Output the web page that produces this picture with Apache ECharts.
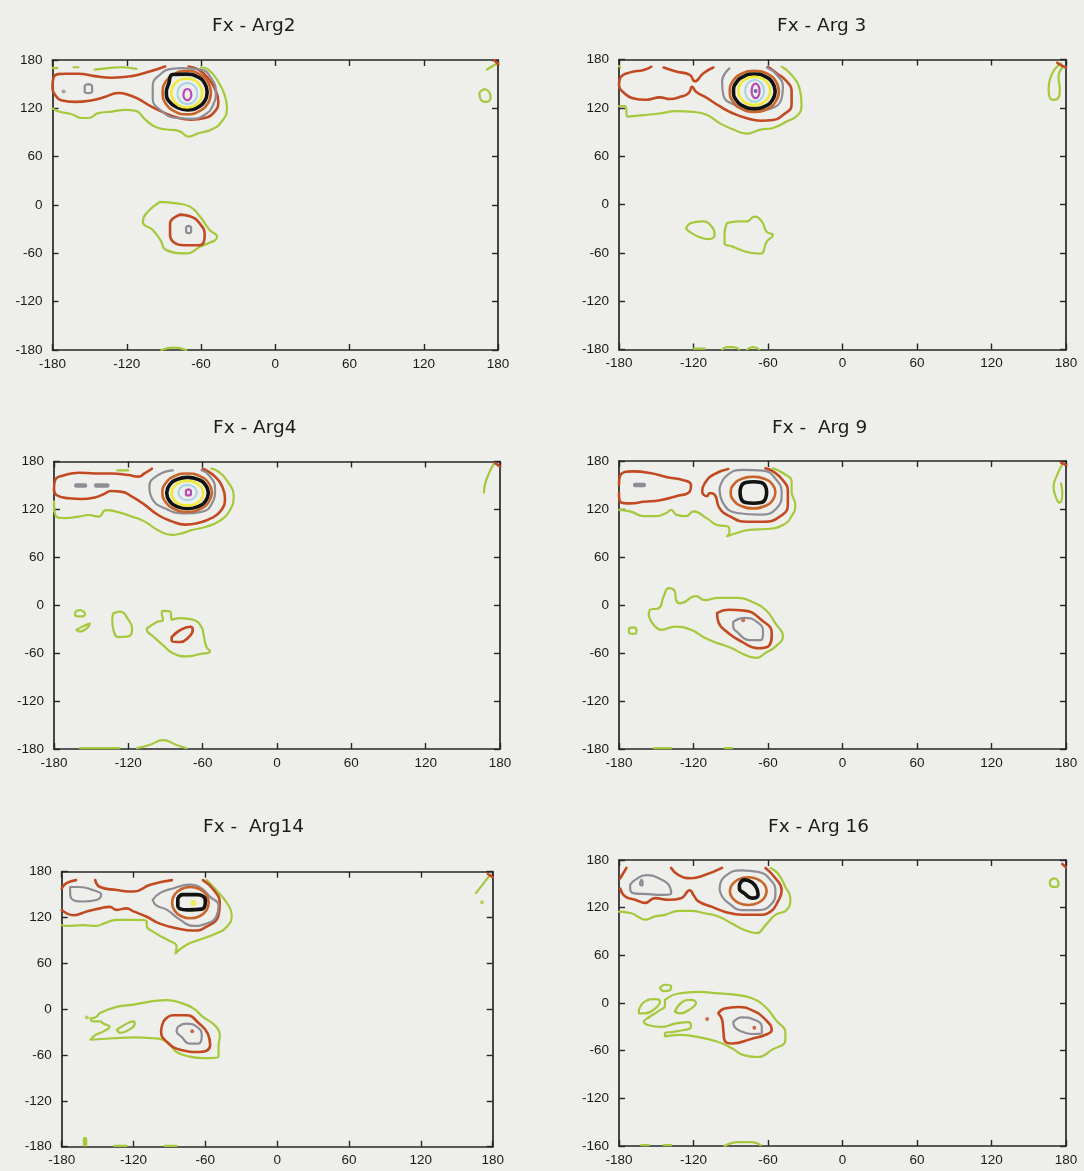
<!DOCTYPE html>
<html>
<head>
<meta charset="utf-8">
<script src="https://cdn.jsdelivr.net/npm/echarts@6/dist/echarts.min.js"></script>
<style>
html,body{margin:0;padding:0;background:#eeeeeb;}
#chart{width:1084px;height:1171px;}
</style>
</head>
<body>
<div id="chart"></div>
<script>
// ---------- tick labels / titles ----------
const axisTicks = [-180, -120, -60, 0, 60, 120, 180];
const titles = ["Fx - Arg2", "Fx - Arg 3", "Fx - Arg4", "Fx -  Arg 9", "Fx -  Arg14", "Fx - Arg 16"];
const lastPanelYLabels = ["-160", "-120", "-60", "0", "60", "120", "180"];

// ---------- Panel 1 : Arg2 ----------
const a2_green1 = [[-180,170],[-176,170]];
const a2_green2 = [[-163,171],[-159,171]];
const a2_green3 = [[-146,168],[-135,170],[-124,171],[-112,169]];
const a2_green4 = [[-180,120],[-175,116],[-165,113],[-156,108],[-151,108],[-143,114],[-132,116],[-121,118],[-113,117],[-105,106],[-97,97],[-89,94],[-78,92],[-70,85],[-62,89],[-51,94],[-43,104],[-39,120],[-41,137],[-46,153],[-54,168],[-60,171]];
const a2_green5 = [[-93,4],[-104,-10],[-107,-21],[-99,-31],[-93,-43],[-88,-56],[-72,-60],[-61,-52],[-47,-39],[-53,-31],[-61,-14],[-69,-2],[-80,2],[-93,4]];
const a2_green6 = [[-92,-180],[-82,-177],[-72,-180]];
const a2_green7 = [[169,144],[173,140],[174,133],[170,128],[166,131],[165,138],[169,144]];
const a2_green8 = [[171,168],[175,172],[180,176]];
const a2_red1 = [[-89,172],[-103,165],[-116,160],[-132,158],[-146,160],[-159,163],[-170,163],[-179,159],[-180,145],[-178,137],[-173,130],[-162,128],[-148,130],[-138,134],[-127,139],[-119,137],[-111,132],[-100,122],[-89,114],[-78,108],[-68,106],[-57,108],[-49,116],[-46,128],[-49,145],[-54,157],[-62,168],[-70,172]];
const a2_red2 = [[-77,-12],[-85,-23],[-85,-37],[-74,-50],[-61,-50],[-57,-37],[-61,-23],[-69,-14],[-77,-12]];
const a2_red3 = [[177,180],[180,175]];
const a2_gray1 = [[-75,170],[-60,168],[-52,158],[-48,140],[-50,125],[-56,113],[-68,107],[-80,108],[-92,117],[-99,132],[-99,148],[-93,162],[-84,169],[-75,170]];
const a2_gray2 = [[-151,150],[-148,147],[-148,141],[-151,139],[-154,141],[-154,147],[-151,150]];
const a2_gray3 = [[-70,-26],[-68,-28],[-68,-33],[-70,-35],[-72,-33],[-72,-28],[-70,-26]];
const a2_grayDot = [[-171,141]];
const a2_orange1 = [[-52,139.5],[-54.5,153],[-62,163],[-71.5,166.5],[-81,163],[-88.5,153],[-91,139.5],[-88.5,126],[-81,116],[-71.5,112.5],[-62,116],[-54.5,126],[-52,139.5]];
const a2_black1 = [[-55,140],[-57,151],[-63,159.5],[-72,162.5],[-83,162],[-86,151],[-88,140],[-86,129],[-79,121],[-71,118],[-63,121],[-57,129],[-55,140]];
const a2_yellow1 = [[-59,139],[-60.6,148],[-65,154.7],[-71.5,157],[-78,154.7],[-82.4,148],[-84,139],[-82.4,130],[-78,123.3],[-71.5,121],[-65,123.3],[-60.6,130],[-59,139]];
const a2_blue1 = [[-63,138.5],[-64,145],[-67,149.8],[-71,151.5],[-75,149.8],[-78,145],[-79,138.5],[-78,132],[-75,127.2],[-71,125.5],[-67,127.2],[-64,132],[-63,138.5]];
const a2_magenta1 = [[-67.8,137],[-68.7,142],[-71,144],[-73.3,142],[-74.2,137],[-73.3,132],[-71,130],[-68.7,132],[-67.8,137]];

// ---------- Panel 2 : Arg 3 ----------
const a3_green1 = [[-180,122],[-175,122],[-173,109],[-160,111],[-147,113],[-134,116],[-120,115],[-109,111],[-99,101],[-88,93],[-77,88],[-66,93],[-56,95],[-45,103],[-36,111],[-33,124],[-34,140],[-41,161],[-49,171]];
const a3_green2 = [[-126,-30],[-122,-23],[-113,-21],[-105,-28],[-103,-38],[-108,-43],[-116,-40],[-123,-34],[-126,-30]];
const a3_green3 = [[-93,-23],[-84,-21],[-77,-21],[-71,-15],[-65,-21],[-61,-34],[-56,-38],[-61,-46],[-66,-61],[-77,-59],[-89,-52],[-95,-48],[-95,-36],[-93,-23]];
const a3_green4 = [[-120,-179],[-111,-179]];
const a3_green5 = [[-97,-180],[-93,-177],[-88,-177],[-83,-180]];
const a3_green6 = [[-77,-180],[-72,-177],[-67,-180]];
const a3_green7 = [[176,175],[171,168],[167,155],[166,142],[169,130],[173,131],[175,143],[174,158],[177,170]];
const a3_green8 = [[-180,172],[-179,170]];
const a3_red1 = [[-154,171],[-160,167],[-171,164],[-179,157],[-180,148],[-177,140],[-169,132],[-158,130],[-147,133],[-139,131],[-130,134],[-124,138],[-121,146],[-118,140],[-109,132],[-99,122],[-88,113],[-77,107],[-66,104],[-56,105],[-48,111],[-41,124],[-41,140],[-45,153],[-53,163],[-60,171]];
const a3_red2 = [[-144,170],[-134,165],[-123,161],[-119,153],[-112,163],[-104,170]];
const a3_red3 = [[173,176],[177,172],[180,170]];
const a3_gray1 = [[-91,169],[-97,153],[-96,136],[-85,122],[-72,116],[-58,119],[-49,132],[-48,146],[-53,161],[-61,170]];
const a3_orange1 = [[-51.2,140.5],[-53.8,153.3],[-61.1,162.6],[-71,166],[-80.9,162.6],[-88.2,153.3],[-90.8,140.5],[-88.2,127.7],[-80.9,118.4],[-71,115],[-61.1,118.4],[-53.8,127.7],[-51.2,140.5]];
const a3_black1 = [[-54.2,140.5],[-56.4,151.3],[-62.6,159.2],[-71,162],[-79.4,159.2],[-85.6,151.3],[-87.8,140.5],[-85.6,129.7],[-79.4,121.8],[-71,119],[-62.6,121.8],[-56.4,129.7],[-54.2,140.5]];
const a3_yellow1 = [[-58.2,141],[-59.9,149.8],[-64.6,156.3],[-71,158.6],[-77.4,156.3],[-82.1,149.8],[-83.8,141],[-82.1,132.2],[-77.4,125.7],[-71,123.4],[-64.6,125.7],[-59.9,132.2],[-58.2,141]];
const a3_blue1 = [[-63.2,141],[-64.2,147.8],[-67,152.7],[-70.8,154.5],[-74.6,152.7],[-77.4,147.8],[-78.4,141],[-77.4,134.2],[-74.6,129.3],[-70.8,127.5],[-67,129.3],[-64.2,134.2],[-63.2,141]];
const a3_magenta1 = [[-66.8,141],[-67.7,147.4],[-70,150],[-72.3,147.4],[-73.2,141],[-72.3,134.6],[-70,132],[-67.7,134.6],[-66.8,141]];
const a3_violetDot = [[-70,141]];

// ---------- Panel 3 : Arg4 ----------
const a4_green1 = [[-129,169],[-120,169]];
const a4_green2 = [[-180,130],[-179,113],[-171,109],[-160,111],[-152,113],[-144,111],[-138,119],[-129,117],[-117,111],[-107,105],[-96,94],[-85,88],[-77,90],[-69,94],[-58,98],[-47,105],[-38,119],[-35,138],[-39,153],[-47,167],[-53,171]];
const a4_green3 = [[-159,-6],[-156,-8],[-155,-11],[-157,-14],[-161,-14],[-163,-11],[-162,-7],[-159,-6]];
const a4_green4 = [[-162,-31],[-156,-26],[-151,-23],[-153,-28],[-159,-33],[-162,-31]];
const a4_green5 = [[-132,-10],[-127,-8],[-120,-18],[-117,-31],[-120,-39],[-128,-40],[-132,-31],[-133,-18],[-132,-10]];
const a4_green6 = [[-105,-29],[-97,-21],[-92,-18],[-93,-10],[-92,-7],[-86,-8],[-85,-18],[-78,-16],[-68,-18],[-61,-27],[-59,-39],[-57,-52],[-54,-58],[-62,-61],[-73,-64],[-84,-60],[-92,-50],[-100,-39],[-105,-31],[-105,-29]];
const a4_green7 = [[-159,-179],[-127,-179]];
const a4_green8 = [[-113,-179],[-103,-175],[-92,-169],[-81,-175],[-73,-179]];
const a4_green9 = [[175,177],[171,165],[168,152],[167,141]];
const a4_green10 = [[-180,128],[-180,118]];
const a4_red1 = [[-101,171],[-107,165],[-112,161],[-120,163],[-134,165],[-147,165],[-160,166],[-171,163],[-179,157],[-180,146],[-178,138],[-168,134],[-158,133],[-147,135],[-140,139],[-134,143],[-125,142],[-117,136],[-107,126],[-96,113],[-85,105],[-74,101],[-64,103],[-53,109],[-45,119],[-42,134],[-45,151],[-50,161],[-55,167],[-60,171]];
const a4_red2 = [[-85,-40],[-78,-31],[-70,-27],[-68,-31],[-72,-41],[-78,-46],[-85,-44],[-85,-40]];
const a4_red3 = [[176,178],[180,174]];
const a4_grayDash1 = [[-162,150],[-155,150]];
const a4_grayDash2 = [[-146,150],[-137,150]];
const a4_gray3 = [[-84,169],[-96,163],[-103,149],[-101,134],[-90,121],[-74,115],[-61,117],[-53,126],[-50,146],[-55,163],[-61,169]];
const a4_orange1 = [[-52.5,141],[-55.2,153],[-62.5,161.8],[-72.5,165],[-82.5,161.8],[-89.8,153],[-92.5,141],[-89.8,129],[-82.5,120.2],[-72.5,117],[-62.5,120.2],[-55.2,129],[-52.5,141]];
const a4_black1 = [[-55.4,140.6],[-57.6,150.4],[-63.8,157.6],[-72.2,160.1],[-80.6,157.6],[-86.8,150.4],[-89,140.6],[-86.8,130.8],[-80.6,123.6],[-72.2,121.1],[-63.8,123.6],[-57.6,130.8],[-55.4,140.6]];
const a4_yellow1 = [[-59.5,140.2],[-61.2,148],[-65.9,153.7],[-72.3,155.7],[-78.7,153.7],[-83.4,148],[-85.1,140.2],[-83.4,132.4],[-78.7,126.7],[-72.3,124.7],[-65.9,126.7],[-61.2,132.4],[-59.5,140.2]];
const a4_blue1 = [[-64.8,141.2],[-65.8,145.9],[-68.5,149.4],[-72.2,150.6],[-75.9,149.4],[-78.6,145.9],[-79.6,141.2],[-78.6,136.5],[-75.9,133],[-72.2,131.8],[-68.5,133],[-65.8,136.5],[-64.8,141.2]];
const a4_magenta1 = [[-71.5,145],[-69.5,143],[-69.5,139],[-71.5,137.5],[-73.5,139],[-73.5,143],[-71.5,145]];

// ---------- Panel 4 : Arg 9 ----------
const a9_green1 = [[-180,119],[-171,117],[-160,111],[-150,111],[-142,115],[-138,119],[-134,113],[-126,111],[-120,117],[-109,108],[-101,100],[-92,98],[-91,92],[-93,86],[-85,90],[-75,94],[-61,95],[-48,100],[-41,111],[-38,125],[-41,142],[-41,154],[-48,165],[-56,171]];
const a9_green2 = [[-156,-14],[-155,-6],[-148,-4],[-144,11],[-140,21],[-135,17],[-134,6],[-131,2],[-118,11],[-111,6],[-100,9],[-84,9],[-73,4],[-62,-6],[-54,-23],[-48,-39],[-54,-52],[-62,-60],[-69,-66],[-79,-62],[-89,-54],[-100,-48],[-111,-41],[-122,-31],[-135,-27],[-146,-31],[-152,-25],[-156,-14]];
const a9_green3 = [[-169,-28],[-166,-30],[-166,-34],[-169,-36],[-172,-34],[-172,-30],[-169,-28]];
const a9_green4 = [[-152,-179],[-138,-179]];
const a9_green5 = [[-95,-179],[-89,-179]];
const a9_green6 = [[177,176],[173,163],[170,148],[172,134],[175,128],[177,140],[176,152]];
const a9_red1 = [[-180,150],[-179,162],[-169,167],[-155,165],[-142,160],[-128,156],[-122,150],[-123,142],[-134,136],[-147,131],[-160,129],[-171,127],[-179,129],[-180,140]];
const a9_red2 = [[-92,170],[-104,163],[-111,152],[-113,142],[-109,136],[-107,140],[-103,138],[-99,121],[-91,111],[-77,104],[-64,104],[-50,111],[-44,125],[-44,142],[-48,156],[-56,167],[-62,171]];
const a9_red3 = [[-101,-10],[-92,-6],[-79,-7],[-65,-19],[-57,-35],[-60,-52],[-68,-54],[-81,-46],[-92,-35],[-100,-21],[-101,-10]];
const a9_red4 = [[176,178],[180,175]];
const a9_redDot = [[-80,-19]];
const a9_grayDash1 = [[-167,150],[-160,150]];
const a9_gray2 = [[-99,146],[-93,162],[-80,169],[-64,168],[-53,156],[-49,140],[-53,121],[-66,113],[-85,115],[-96,127],[-99,146]];
const a9_gray3 = [[-88,-21],[-79,-16],[-69,-21],[-64,-33],[-66,-44],[-75,-44],[-84,-35],[-88,-27],[-88,-21]];
const a9_orange1 = [[-54,140.6],[-56.3,150.5],[-63,157.8],[-72,160.4],[-81,157.8],[-87.7,150.5],[-90,140.6],[-87.7,130.7],[-81,123.4],[-72,120.8],[-63,123.4],[-56.3,130.7],[-54,140.6]];
const a9_black1 = [[-61.1,140.6],[-62,148],[-65.5,153],[-71.8,154.1],[-78,153],[-81.7,148],[-82.5,140.6],[-81.7,133],[-78,128],[-71.8,127.1],[-65.5,128],[-62,133],[-61.1,140.6]];

// ---------- Panel 5 : Arg14 ----------
const a14_green1 = [[-59,169],[-51,156],[-42,139],[-38,123],[-42,108],[-51,99],[-65,91],[-76,84],[-85,73],[-84,82],[-92,91],[-101,99],[-109,110],[-109,115],[-120,117],[-134,117],[-145,112],[-151,109],[-162,110],[-176,109],[-180,110]];
const a14_green2 = [[-156,-12],[-151,-10],[-148,-5],[-134,3],[-120,6],[-106,10],[-92,12],[-80,8],[-70,1],[-62,-10],[-51,-23],[-48,-36],[-49,-49],[-49,-62],[-62,-64],[-73,-62],[-84,-56],[-92,-43],[-104,-38],[-120,-37],[-137,-38],[-156,-40],[-152,-34],[-145,-29],[-140,-23],[-145,-19],[-148,-16],[-154,-16],[-156,-12]];
const a14_green3 = [[-134,-27],[-129,-22],[-120,-16],[-119,-19],[-124,-27],[-131,-31],[-134,-27]];
const a14_greenDash4 = [[-160.5,-170],[-160.5,-177]];
const a14_green5 = [[-136,-179],[-126,-179]];
const a14_green6 = [[-94,-179],[-84,-179]];
const a14_green7 = [[178,176],[172,164],[166,152]];
const a14_greenDot = [[-159,-11],[171,140]];
const a14_red1 = [[-180,158],[-176,165],[-168,169]];
const a14_red2 = [[-152,169],[-148,160],[-134,156],[-120,154],[-106,163],[-88,169]];
const a14_red3 = [[-180,130],[-170,123],[-159,128],[-148,132],[-140,134],[-134,130],[-126,132],[-120,128],[-109,121],[-98,112],[-84,106],[-70,103],[-59,108],[-49,123],[-48,139],[-53,156],[-62,169]];
const a14_red4 = [[-95,-16],[-87,-8],[-76,-8],[-65,-19],[-58,-32],[-56,-47],[-65,-56],[-81,-53],[-92,-43],[-97,-29],[-95,-16]];
const a14_red5 = [[176,177],[180,173]];
const a14_redDot = [[-71,-29]];
const a14_gray1 = [[-173,160],[-165,160],[-154,156],[-147,150],[-151,143],[-162,141],[-172,145],[-173,153],[-173,160]];
const a14_gray2 = [[-104,143],[-98,152],[-87,158],[-73,163],[-65,160],[-56,147],[-49,136],[-51,121],[-59,112],[-70,109],[-81,117],[-92,130],[-101,136],[-104,143]];
const a14_gray3 = [[-83,-23],[-76,-19],[-67,-23],[-63,-34],[-66,-45],[-73,-45],[-80,-36],[-84,-29],[-83,-23]];
const a14_orange1 = [[-57.2,139.5],[-59.2,149.8],[-64.9,157.3],[-72.5,160],[-80.1,157.3],[-85.8,149.8],[-87.8,139.5],[-85.8,129.2],[-80.1,121.7],[-72.5,119],[-64.9,121.7],[-59.2,129.2],[-57.2,139.5]];
const a14_black1 = [[-83,145],[-79,150],[-67,150],[-60,142],[-63,131],[-75,130],[-83,135],[-83,145]];
const a14_yellowDot = [[-70,139]];

// ---------- Panel 6 : Arg 16 ----------
const a16_green1 = [[-58,170],[-52,163],[-46,146],[-42,132],[-45,117],[-54,111],[-62,98],[-69,88],[-79,92],[-89,100],[-100,109],[-111,113],[-122,116],[-132,116],[-143,111],[-151,109],[-159,105],[-165,109],[-170,113],[-180,115]];
const a16_green2 = [[-147,19],[-143,23],[-138,21],[-139,16],[-144,15],[-147,19]];
const a16_green3 = [[-164,-9],[-159,2],[-151,5],[-147,2],[-151,-7],[-159,-13],[-164,-13],[-164,-9]];
const a16_green4 = [[-135,-11],[-130,0],[-122,4],[-118,0],[-122,-7],[-131,-13],[-135,-11]];
const a16_green5 = [[-143,4],[-132,12],[-116,14],[-100,12],[-84,10],[-73,6],[-62,-5],[-54,-21],[-46,-38],[-46,-47],[-57,-59],[-68,-68],[-79,-66],[-89,-57],[-100,-49],[-116,-43],[-132,-40],[-143,-42],[-143,-38],[-135,-36],[-122,-30],[-124,-24],[-135,-26],[-146,-30],[-156,-28],[-160,-24],[-155,-17],[-148,-10],[-143,-3],[-143,4]];
const a16_green6 = [[-162,-179],[-156,-179]];
const a16_green7 = [[-144,-179],[-138,-179]];
const a16_green8 = [[-95,-180],[-84,-175],[-73,-175],[-66,-179]];
const a16_green9 = [[170,157],[173,155],[174,150],[172,146],[168,147],[167,152],[170,157]];
const a16_red1 = [[-174,170],[-179,157]];
const a16_red2 = [[-179,144],[-175,134],[-167,130],[-159,126],[-151,132],[-140,130],[-130,132],[-123,142],[-120,136],[-116,128],[-105,121],[-95,115],[-81,111],[-68,111],[-58,115],[-52,128],[-49,142],[-54,157],[-62,170]];
const a16_red3 = [[-138,170],[-132,161],[-122,157],[-111,161],[-97,170]];
const a16_red4 = [[-100,-13],[-95,-7],[-84,-5],[-73,-9],[-62,-21],[-57,-34],[-62,-40],[-73,-45],[-89,-51],[-95,-47],[-96,-34],[-97,-21],[-100,-13]];
const a16_red5 = [[177,175],[180,171]];
const a16_redDot = [[-109,-20],[-71,-31]];
const a16_gray1 = [[-171,149],[-167,155],[-158,161],[-148,157],[-139,146],[-138,138],[-146,136],[-156,137],[-168,138],[-171,144],[-171,149]];
const a16_gray2 = [[-162,155],[-161,152],[-161,149],[-162,148],[-163,150],[-162,155]];
const a16_gray3 = [[-99,144],[-95,159],[-81,167],[-68,165],[-58,155],[-54,140],[-57,125],[-68,117],[-81,117],[-92,126],[-97,134],[-99,144]];
const a16_gray4 = [[-88,-24],[-81,-18],[-71,-21],[-65,-30],[-65,-38],[-73,-39],[-81,-36],[-87,-30],[-88,-24]];
const a16_orange1 = [[-61.1,140.8],[-63,149.5],[-68.5,155.9],[-75.9,158.2],[-83.3,155.9],[-88.7,149.5],[-90.7,140.8],[-88.7,132.1],[-83.3,125.7],[-75.9,123.4],[-68.5,125.7],[-63,132.1],[-61.1,140.8]];
const a16_black1 = [[-83,149],[-79,155],[-73,152],[-69,144],[-68,136],[-73,132],[-79,138],[-83,144],[-83,149]];

// ---------- assembly ----------
const STYLE = {
  green:     {color:'#a5c93c', width:2.2},
  greenThick:{color:'#a5c93c', width:4.5},
  red:       {color:'#c24a22', width:2.6},
  gray:      {color:'#8e8d96', width:2.2},
  grayThick: {color:'#8e8d96', width:4.5},
  orange:    {color:'#c9642a', width:2.6},
  black:     {color:'#121212', width:3.6},
  yellow:    {color:'#eeea3a', width:2.6},
  blue:      {color:'#a6d3e4', width:2},
  magenta:   {color:'#b84ab6', width:2.2},
  violet:    {color:'#4a3fb0', width:2}
};

const panels = [
  {grid:{left:52.5, top:60, width:445.5, height:290}, title:[207,12],
   lines:{green:[a2_green1,a2_green2,a2_green3,a2_green4,a2_green5,a2_green6,a2_green7,a2_green8], red:[a2_red1,a2_red2,a2_red3], gray:[a2_gray1,a2_gray2,a2_gray3], orange:[a2_orange1], black:[a2_black1], yellow:[a2_yellow1], blue:[a2_blue1], magenta:[a2_magenta1]},
   dots:{gray:a2_grayDot}},
  {grid:{left:619, top:59.5, width:447, height:290}, title:[772,12],
   lines:{green:[a3_green1,a3_green2,a3_green3,a3_green4,a3_green5,a3_green6,a3_green7,a3_green8], red:[a3_red1,a3_red2,a3_red3], gray:[a3_gray1], orange:[a3_orange1], black:[a3_black1], yellow:[a3_yellow1], blue:[a3_blue1], magenta:[a3_magenta1]},
   dots:{violet:a3_violetDot}},
  {grid:{left:54, top:461.5, width:446, height:287.5}, title:[208,414],
   lines:{green:[a4_green1,a4_green2,a4_green3,a4_green4,a4_green5,a4_green6,a4_green7,a4_green8,a4_green9,a4_green10], red:[a4_red1,a4_red2,a4_red3], grayThick:[a4_grayDash1,a4_grayDash2], gray:[a4_gray3], orange:[a4_orange1], black:[a4_black1], yellow:[a4_yellow1], blue:[a4_blue1], magenta:[a4_magenta1]},
   dots:{}},
  {grid:{left:619, top:461, width:447, height:288}, title:[767,414],
   lines:{green:[a9_green1,a9_green2,a9_green3,a9_green4,a9_green5,a9_green6], red:[a9_red1,a9_red2,a9_red3,a9_red4], grayThick:[a9_grayDash1], gray:[a9_gray2,a9_gray3], orange:[a9_orange1], black:[a9_black1]},
   dots:{red:a9_redDot}},
  {grid:{left:61.7, top:871.7, width:431, height:275}, title:[198,813],
   lines:{green:[a14_green1,a14_green2,a14_green3,a14_green5,a14_green6,a14_green7], greenThick:[a14_greenDash4], red:[a14_red1,a14_red2,a14_red3,a14_red4,a14_red5], gray:[a14_gray1,a14_gray2,a14_gray3], orange:[a14_orange1], black:[a14_black1]},
   dots:{green:a14_greenDot, red:a14_redDot, yellow:a14_yellowDot}},
  {grid:{left:619, top:860, width:447, height:286}, title:[763,813],
   lines:{green:[a16_green1,a16_green2,a16_green3,a16_green4,a16_green5,a16_green6,a16_green7,a16_green8,a16_green9], red:[a16_red1,a16_red2,a16_red3,a16_red4,a16_red5], gray:[a16_gray1,a16_gray2,a16_gray3,a16_gray4], orange:[a16_orange1], black:[a16_black1]},
   dots:{red:a16_redDot}}
];

const AX = '#262626';
const labelFont = {fontFamily:'Liberation Sans, Arial, sans-serif', fontSize:13.5, color:'#1a1a1a'};
const grids = [], xAxes = [], yAxes = [], series = [], titleOpts = [];
const order = ['green','greenThick','red','gray','grayThick','orange','black','yellow','blue','magenta'];

panels.forEach((p, i) => {
  grids.push(Object.assign({containLabel:false}, p.grid));
  titleOpts.push({text:titles[i], left:p.title[0], top:p.title[1],
    textStyle:{fontFamily:'DejaVu Sans, sans-serif', fontSize:18.5, fontWeight:'normal', color:'#1c1c1c'}});
  const base = {type:'value', min:axisTicks[0], max:axisTicks[axisTicks.length-1], interval:60, gridIndex:i,
    splitLine:{show:false}, axisLine:{show:true, onZero:false, lineStyle:{color:AX, width:1.7}},
    axisTick:{show:true, inside:true, length:6, lineStyle:{color:AX, width:1.4}}};
  xAxes.push(Object.assign({}, base, {position:'bottom',
    axisLabel:Object.assign({show:true, margin:7}, labelFont)}));
  xAxes.push(Object.assign({}, base, {position:'top', axisLabel:{show:false}}));
  const yfmt = (i === 5) ? (v => lastPanelYLabels[axisTicks.indexOf(v)]) : (v => String(v));
  yAxes.push(Object.assign({}, base, {position:'left',
    axisLabel:Object.assign({show:true, margin:10, formatter:yfmt}, labelFont)}));
  yAxes.push(Object.assign({}, base, {position:'right', axisLabel:{show:false}}));

  order.forEach(level => {
    (p.lines[level] || []).forEach(arr => {
      series.push({type:'line', xAxisIndex:2*i, yAxisIndex:2*i, data:arr,
        showSymbol:false, symbol:'none', smooth:0.5, silent:true, clip:true,
        lineStyle:{color:STYLE[level].color, width:STYLE[level].width, cap:'round', join:'round'}});
    });
  });
  Object.keys(p.dots).forEach(level => {
    series.push({type:'scatter', xAxisIndex:2*i, yAxisIndex:2*i, data:p.dots[level],
      symbolSize: level === 'yellow' ? 6 : 4, silent:true,
      itemStyle:{color:STYLE[level].color}});
  });
});

const chart = echarts.init(document.getElementById('chart'), null, {renderer:'canvas'});
chart.setOption({
  backgroundColor:'#eeeeeb',
  animation:false,
  title:titleOpts,
  grid:grids,
  xAxis:xAxes,
  yAxis:yAxes,
  series:series
});
</script>
</body>
</html>
